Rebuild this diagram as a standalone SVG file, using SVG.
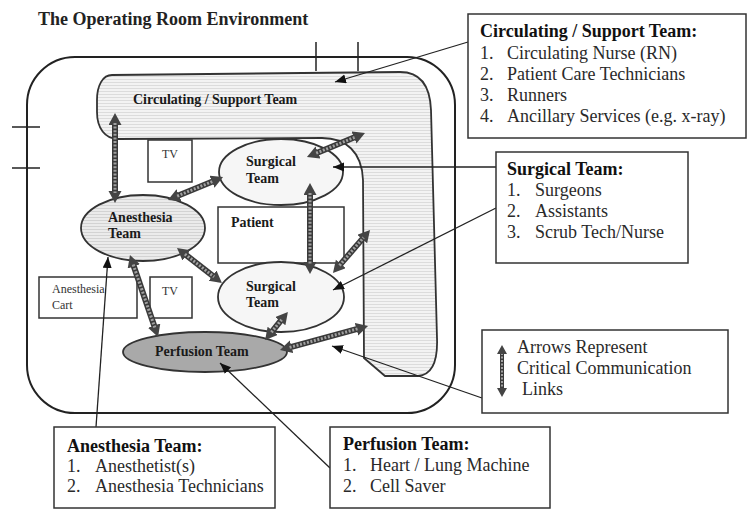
<svg xmlns="http://www.w3.org/2000/svg" width="748" height="510" viewBox="0 0 748 510">
<style>
.ol{fill:none;stroke:#222;stroke-width:2}
.box{fill:#fff;stroke:#333;stroke-width:1.5}
.nb{font-family:"Liberation Serif",serif;font-weight:bold;font-size:14px;fill:#1a1a1a}
.nr{font-family:"Liberation Serif",serif;font-size:12px;fill:#333}
.ct{font-family:"Liberation Serif",serif;font-weight:bold;font-size:18px;fill:#111}
.ci{font-family:"Liberation Serif",serif;font-size:18px;fill:#2a2a2a}
.tick{stroke:#222;stroke-width:1.5}
.ptr{stroke:#222;stroke-width:1.3;fill:none;marker-end:url(#tri)}
.cb{stroke:#3a3a3a;stroke-width:6;fill:none;marker-start:url(#head);marker-end:url(#head)}
.cd{stroke:#a0a0a0;stroke-width:3;fill:none;stroke-dasharray:2 1.6}
</style>
<defs>
<pattern id="hatch" width="6" height="3" patternUnits="userSpaceOnUse"><rect width="6" height="3" fill="#f3f3f3"/><line x1="0" y1="1.5" x2="6" y2="1.5" stroke="#d2d2d2" stroke-width="0.7"/></pattern>
<pattern id="hatch2" width="6" height="3" patternUnits="userSpaceOnUse"><rect width="6" height="3" fill="#ebebeb"/><line x1="0" y1="1.5" x2="6" y2="1.5" stroke="#c8c8c8" stroke-width="0.7"/></pattern>
<marker id="tri" markerUnits="userSpaceOnUse" markerWidth="12" markerHeight="10" refX="11" refY="4.5" orient="auto"><path d="M0,0 L11,4.5 L0,9 z" fill="#111"/></marker>
<marker id="head" markerUnits="userSpaceOnUse" markerWidth="14" markerHeight="14" refX="2" refY="6.5" orient="auto-start-reverse"><path d="M0,0 L12,6.5 L0,13 z" fill="#444"/></marker>
</defs>
<rect width="748" height="510" fill="#fff"/>
<text x="38" y="25" font-family="Liberation Serif, serif" font-weight="bold" font-size="18" fill="#222">The Operating Room Environment</text>

<g id="room">
<rect class="ol" x="27" y="57" width="428" height="356" rx="48" ry="48"/>
<line class="tick" x1="316" y1="42" x2="316" y2="71"/>
<line class="tick" x1="358" y1="42" x2="358" y2="71"/>
<line class="tick" x1="12" y1="127" x2="40" y2="127"/>
<line class="tick" x1="12" y1="168" x2="40" y2="168"/>
</g>

<g id="circulating-area">
<path d="M112 75 L400 72 C420 72 430 85 431 110 L437 338 C438 364 431 375 418 376 L385 376 L364 358 L363 180 C362 152 346 138 322 138 L118 139 C105 139 97 128 97 112 L97 100 C97 85 103 75 112 75 Z" fill="url(#hatch)" stroke="#333" stroke-width="1.8"/>
<text class="nb" x="133" y="104">Circulating / Support Team</text>
</g>

<g id="tv1"><rect x="148" y="140" width="44" height="42" fill="#fff" stroke="#333" stroke-width="1.5"/><text class="nr" x="162" y="158">TV</text></g>
<g id="tv2"><rect x="150" y="277" width="42" height="41" fill="#fff" stroke="#333" stroke-width="1.5"/><text class="nr" x="162" y="295">TV</text></g>
<g id="patient"><rect x="218" y="207" width="126" height="56" fill="#fff" stroke="#333" stroke-width="1.5"/><text class="nb" x="231" y="227">Patient</text></g>
<g id="anesthesia-cart"><rect x="39" y="277" width="98" height="41" fill="#fff" stroke="#333" stroke-width="1.5"/><text class="nr" x="52" y="293">Anesthesia</text><text class="nr" x="52" y="309">Cart</text></g>

<g id="surgical-team-1"><ellipse cx="281" cy="172" rx="62" ry="33" fill="#f6f6f6" stroke="#333" stroke-width="1.8"/><text class="nb" x="246" y="166">Surgical</text><text class="nb" x="246" y="183">Team</text></g>
<g id="anesthesia-team"><ellipse cx="143" cy="228" rx="62" ry="33" fill="url(#hatch2)" stroke="#333" stroke-width="1.8"/><text class="nb" x="108" y="222">Anesthesia</text><text class="nb" x="108" y="238">Team</text></g>
<g id="surgical-team-2"><ellipse cx="281" cy="297" rx="63" ry="35" fill="#f6f6f6" stroke="#333" stroke-width="1.8"/><text class="nb" x="246" y="291">Surgical</text><text class="nb" x="246" y="307">Team</text></g>
<g id="perfusion-team"><ellipse cx="205" cy="352" rx="82" ry="20" fill="#a9a9a9" stroke="#333" stroke-width="1.8"/><text class="nb" x="155" y="356">Perfusion Team</text></g>

<g id="connectors">
<g id="links">
<path class="cb" d="M115 123 L115 193"/><path class="cd" d="M115 123 L115 193"/>
<path class="cb" d="M177.2 196.1 L213.8 180.9"/><path class="cd" d="M177.2 196.1 L213.8 180.9"/>
<path class="cb" d="M316.2 153.2 L355.8 136.8"/><path class="cd" d="M316.2 153.2 L355.8 136.8"/>
<path class="cb" d="M310 193 L310 264"/><path class="cd" d="M310 193 L310 264"/>
<path class="cb" d="M339.5 265.4 L363.5 237.6"/><path class="cd" d="M339.5 265.4 L363.5 237.6"/>
<path class="cb" d="M184.9 254.1 L214.1 276.9"/><path class="cd" d="M184.9 254.1 L214.1 276.9"/>
<path class="cb" d="M133.2 264.5 L154.8 327.5"/><path class="cd" d="M133.2 264.5 L154.8 327.5"/>
<path class="cb" d="M271.4 332.3 L281.6 319.7"/><path class="cd" d="M271.4 332.3 L281.6 319.7"/>
<path class="cb" d="M289.6 347.4 L358.4 328.6"/><path class="cd" d="M289.6 347.4 L358.4 328.6"/>
</g>
<g id="pointers">
<path class="ptr" d="M468 42 L335 82"/>
<path class="ptr" d="M496 167 L333 167"/>
<path class="ptr" d="M496 208 L333 290"/>
<path class="ptr" d="M482 398 L332 346"/>
<path class="ptr" d="M330 468 L220 363"/>
<path class="ptr" d="M96 427 L108 257"/>
</g>
</g>

<g id="callout-circulating">
<rect class="box" x="468" y="14" width="278" height="124"/>
<text class="ct" x="480" y="37">Circulating / Support Team:</text>
<text class="ci" x="480" y="59">1.</text><text class="ci" x="507" y="59">Circulating Nurse (RN)</text>
<text class="ci" x="480" y="80">2.</text><text class="ci" x="507" y="80">Patient Care Technicians</text>
<text class="ci" x="480" y="101">3.</text><text class="ci" x="507" y="101">Runners</text>
<text class="ci" x="480" y="122">4.</text><text class="ci" x="507" y="122">Ancillary Services (e.g. x-ray)</text>
</g>
<g id="callout-surgical">
<rect class="box" x="496" y="152" width="192" height="111"/>
<text class="ct" x="507" y="175">Surgical Team:</text>
<text class="ci" x="507" y="196">1.</text><text class="ci" x="535" y="196">Surgeons</text>
<text class="ci" x="507" y="217">2.</text><text class="ci" x="535" y="217">Assistants</text>
<text class="ci" x="507" y="238">3.</text><text class="ci" x="535" y="238">Scrub Tech/Nurse</text>
</g>
<g id="legend">
<rect class="box" x="482" y="330" width="246" height="83"/>
<path d="M502 353 L502 389" stroke="#3a3a3a" stroke-width="4" fill="none"/>
<path d="M502 353 L502 389" stroke="#a0a0a0" stroke-width="2" stroke-dasharray="2 1.5" fill="none"/>
<path d="M497 354 L502 345 L507 354 z M497 388 L502 397 L507 388 z" fill="#444"/>
<text class="ci" x="517" y="353">Arrows Represent</text>
<text class="ci" x="517" y="374">Critical Communication</text>
<text class="ci" x="522" y="395">Links</text>
</g>
<g id="callout-perfusion">
<rect class="box" x="330" y="427" width="220" height="81"/>
<text class="ct" x="343" y="450">Perfusion Team:</text>
<text class="ci" x="343" y="471">1.</text><text class="ci" x="370" y="471">Heart / Lung Machine</text>
<text class="ci" x="343" y="492">2.</text><text class="ci" x="370" y="492">Cell Saver</text>
</g>
<g id="callout-anesthesia">
<rect class="box" x="54" y="427" width="221" height="81"/>
<text class="ct" x="67" y="452">Anesthesia Team:</text>
<text class="ci" x="67" y="472">1.</text><text class="ci" x="95" y="472">Anesthetist(s)</text>
<text class="ci" x="67" y="492">2.</text><text class="ci" x="95" y="492">Anesthesia Technicians</text>
</g>
</svg>
